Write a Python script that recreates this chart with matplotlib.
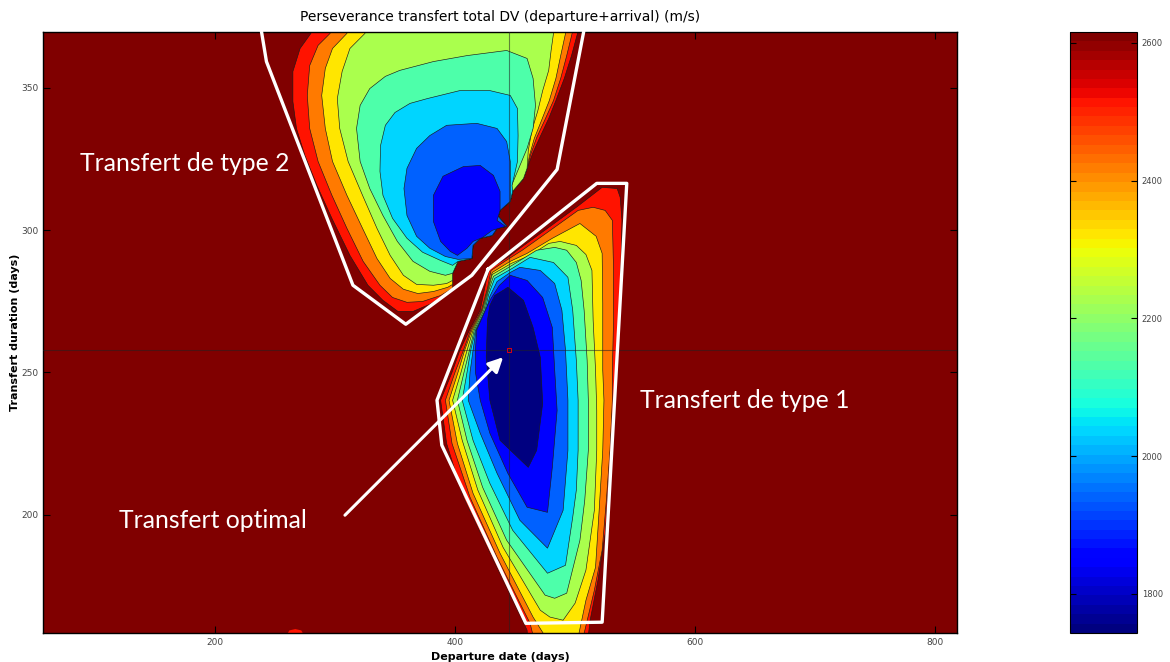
import matplotlib
matplotlib.use("Agg")
import matplotlib.pyplot as plt
from matplotlib import colors, cm

# colour scale of the DV map (m/s)
dv_min, dv_max = 1743, 2616
cbar_ticks = [1800, 2000, 2200, 2400, 2600]
# value of each filled band, outermost (red) to innermost (navy)
band_dv = [2519, 2422, 2325, 2228, 2131, 2034, 1937, 1840, 1743]

# optimum
opt_dep, opt_dur = 445, 257.7

# ridge where the type 2 contours pile up (departure, duration)
ridge2_x = [398, 402.5, 414, 415, 421, 431, 435, 443, 436, 437.5, 446, 448, 457, 460]
ridge2_y = [284.8, 289.0, 290.0, 294.6, 297.1, 298.1, 300.6, 301.3, 304.8, 306.9, 310.1, 313.6, 318.1, 321.7]

# type 2 lobe: open rings (left side, then ridge, then right side)
t2_left_x = [
    [286, 280, 271, 265, 265, 268, 275, 285, 297.5, 312.5, 327.5, 340, 352.5, 365, 379, 393, 398],
    [300, 296, 286, 279, 277, 279, 286, 297.5, 310, 323.5, 337.5, 348, 360, 373, 388, 398],
    [314, 310, 298, 292, 289, 292, 298, 310, 323, 335, 346, 357, 369, 382, 394, 398],
    [331, 325, 312.5, 306, 302, 304, 311, 323, 335, 346, 357, 368, 382, 393, 398],
]
t2_left_y = [
    [380.7, 369.1, 363.8, 355.7, 345.2, 335.7, 326.2, 315.7, 304.1, 291.1, 280.6, 275.3, 271.4, 271.4, 273.9, 277.4, 278.8],
    [380.7, 369.1, 364.9, 357.8, 347.3, 335.7, 324.1, 312.2, 300.6, 289.0, 280.6, 276.3, 274.6, 274.9, 277.0, 279.5],
    [380.7, 369.1, 363.8, 356.8, 347.3, 335.7, 324.1, 312.2, 300.6, 290.0, 283.0, 279.2, 277.7, 278.4, 279.9, 280.9],
    [380.7, 369.1, 363.8, 355.7, 346.2, 335.7, 324.1, 312.2, 300.6, 291.1, 284.1, 280.9, 280.6, 281.2, 282.3],
]
t2_right_x = [
    [465, 471, 478, 484, 491, 497, 502, 506],
    [463, 468, 475, 482, 488, 493, 497.5, 501],
    [462, 466, 472, 478.5, 484, 488, 492, 494],
    [461, 464, 469, 473, 478, 480, 482, 482.5],
]
t2_right_y = [
    [327.3, 332.9, 339.2, 345.5, 353.3, 361.3, 369.1, 380.7],
    [326.6, 332.5, 338.9, 345.5, 353.3, 361.3, 369.1, 380.7],
    [326.2, 332.2, 338.5, 345.5, 353.3, 361.3, 369.1, 380.7],
    [328.0, 335.0, 342.0, 349.0, 356.1, 363.1, 369.1, 380.7],
]
# type 2 lobe: closed inner rings (aqua, light blue, mid blue, blue)
t2_inner_x = [
    [446, 452, 460, 465, 467, 465, 460, 443, 410, 382, 354, 342, 329, 321, 318, 321, 329, 340, 352, 365, 379, 392,
     398, 402.5, 414, 415, 421, 431, 435, 443, 436, 437.5, 446, 448],
    [447.5, 452, 452.5, 452, 446, 429, 404, 377, 362.5, 350, 342, 338, 337.5, 340, 348, 360, 373, 388,
     398, 402.5, 414, 415, 421, 431, 435, 443, 436, 437.5, 446, 448],
    [446, 446, 443, 435, 418, 393, 379, 368, 360, 357.5, 360, 368, 379, 392, 402.5,
     414, 415, 421, 431, 435, 443, 436, 437.5, 446],
    [437.5, 437.5, 432, 421, 407, 390, 382, 382, 388, 396, 402, 410, 415, 423, 431, 442, 435, 437.5],
]
t2_inner_y = [
    [314.6, 320.6, 328.7, 335.7, 343.8, 353.3, 360.3, 363.1, 361.3, 359.2, 356.1, 354.0, 349.7, 343.8, 335.7, 324.1,
     314.6, 305.1, 296.0, 289.0, 285.5, 284.1, 284.8, 289.0, 290.0, 294.6, 297.1, 298.1, 300.6, 301.3, 304.8, 306.9,
     310.1, 313.6],
    [315.7, 324.1, 333.2, 342.7, 347.3, 349.0, 349.0, 346.2, 344.5, 341.3, 336.8, 329.7, 320.6, 312.2, 304.1, 297.1,
     292.2, 289.3, 287.6, 289.0, 290.0, 294.6, 297.1, 298.1, 300.6, 301.3, 304.8, 306.9, 310.1, 313.6],
    [313.9, 324.1, 331.1, 335.7, 337.5, 336.8, 333.2, 328.7, 321.7, 314.6, 305.1, 297.8, 293.6, 290.7, 289.7,
     290.0, 294.6, 297.1, 298.1, 300.6, 301.3, 304.8, 306.9, 310.1],
    [308.7, 313.6, 319.2, 322.7, 322.3, 318.9, 312.2, 303.0, 296.0, 292.5, 291.1, 293.6, 296.0, 297.4, 299.9, 301.3,
     303.4, 306.9],
]

# type 1 lobe: nested closed rings, red to navy
t1_x = [
    [426, 429, 444, 454, 477, 502, 522.5, 535, 537.5, 539, 538, 537, 535, 533, 532, 528, 525, 519, 512.5, 510,
     461, 460, 432, 407, 393, 388, 397.5, 404, 412, 421],
    [427, 430, 444, 456, 478, 502.5, 515, 525, 531, 532, 532, 531, 531, 529, 526, 522.5, 516, 507.5, 507,
     467, 462.5, 435, 412.5, 397.5, 392, 400, 407, 413, 422],
    [427, 431, 446, 460, 481, 504, 517.5, 522.5, 523, 523, 524, 523, 520, 517, 509, 502,
     477, 465, 437.5, 415, 402, 395, 402.5, 408, 414, 422.5],
    [427.5, 431, 447, 462.5, 478, 487.5, 501, 509, 514, 515, 517, 518, 518, 516, 509, 500, 490, 479,
     471, 440, 419, 406, 398, 405, 410, 415, 423],
    [427.5, 432, 447.5, 468, 483, 493, 501, 505, 507.5, 510, 511, 511, 508, 504, 493, 483, 475,
     443, 423, 410, 402, 407.5, 412, 416, 424],
    [428, 433, 447.5, 462.5, 482, 494, 498, 501, 502.5, 502.5, 501, 498, 492, 477, 448, 429, 415, 406,
     410, 413, 417, 425],
    [429, 435, 446, 454, 471, 483, 489, 492, 494, 494, 490, 477, 454, 435, 421, 411, 412.5, 415, 417.5, 426],
    [430, 437, 446, 460, 473, 481, 483, 485, 481, 477, 460, 444, 429, 421, 417, 417, 418, 427],
    [433, 440, 444, 457, 465, 471, 473, 468, 461, 437.5, 429, 426, 427, 429],
]
t1_y = [
    [282.3, 286.5, 290.4, 293.6, 300.6, 308.3, 315.0, 314.6, 311.5, 303.4, 285.8, 268.3, 250.7, 240.2, 228.6, 212.1,
     193.4, 176.9, 162.9, 154.1, 154.1, 159.4, 184.0, 206.1, 225.0, 240.2, 250.0, 257.7, 264.8, 271.8],
    [279.5, 285.8, 289.7, 292.9, 299.5, 306.9, 308.0, 306.9, 303.4, 285.8, 268.3, 250.7, 240.2, 222.6, 205.0, 187.5,
     173.4, 158.3, 154.1, 154.1, 161.8, 185.0, 206.1, 225.0, 240.2, 250.0, 257.7, 264.8, 271.8],
    [278.8, 285.1, 289.0, 291.8, 297.1, 302.3, 297.8, 291.8, 274.2, 250.7, 240.2, 222.6, 201.5, 181.5, 169.9, 155.9,
     155.9, 164.0, 186.4, 207.5, 225.0, 240.2, 250.0, 257.7, 264.8, 271.8],
    [278.8, 284.4, 288.3, 291.1, 295.3, 296.0, 294.6, 291.4, 285.8, 268.3, 250.7, 236.6, 222.6, 201.5, 180.5, 168.9,
     162.9, 164.0, 166.4, 188.5, 208.6, 226.1, 240.2, 250.0, 257.7, 264.8, 271.8],
    [278.1, 283.7, 287.6, 292.9, 293.9, 292.9, 288.6, 282.3, 271.8, 254.2, 240.2, 222.6, 205.0, 191.0, 172.4, 170.6,
     171.7, 191.0, 209.6, 226.1, 240.2, 250.0, 257.7, 264.8, 271.8],
    [277.4, 283.0, 286.5, 290.4, 288.6, 283.4, 271.8, 254.2, 240.2, 222.6, 208.6, 199.1, 182.2, 179.4, 194.5, 211.0,
     226.1, 240.2, 250.0, 257.7, 264.8, 271.8],
    [276.7, 281.9, 285.1, 286.9, 285.8, 281.2, 271.8, 257.7, 240.2, 222.6, 201.5, 188.2, 198.0, 214.5, 228.6, 240.2,
     250.0, 257.7, 264.8, 271.8],
    [276.0, 280.6, 284.1, 282.3, 276.3, 265.8, 250.7, 236.6, 216.6, 200.8, 202.6, 214.5, 228.6, 240.2, 250.0, 257.7,
     264.8, 273.5],
    [277.0, 278.8, 279.9, 275.3, 265.8, 255.3, 239.1, 222.6, 216.6, 226.1, 240.2, 255.3, 268.3, 273.5],
]

# small red patch touching the bottom edge
patch_x = [259, 262, 267, 272, 275]
patch_y = [157.0, 159.3, 159.8, 159.3, 157.0]

# hand-drawn white outlines around the two families of transfers
outline2_x = [239, 243, 315, 359, 414, 485, 507]
outline2_y = [369.4, 359.2, 280.6, 266.9, 284.1, 321.3, 369.4]
outline1_x = [427.5, 518, 543, 522.5, 459, 389, 385, 427.5]
outline1_y = [286.2, 316.4, 316.4, 162.2, 161.8, 224.4, 240.2, 286.2]

cmap = plt.get_cmap("jet")
norm = colors.Normalize(vmin=dv_min, vmax=dv_max)

fig = plt.figure(figsize=(11.7, 6.62), dpi=100)
ax = fig.add_axes([0.0368, 0.0438, 0.7812, 0.9079])
ax.set_facecolor(cmap(norm(dv_max)))


def band(x, y, dv):
    ax.fill(x, y, facecolor=cmap(norm(dv)), edgecolor="#1a1a1a", linewidth=0.45, zorder=2)


for i in range(len(t2_left_x)):
    band(t2_left_x[i] + ridge2_x + t2_right_x[i], t2_left_y[i] + ridge2_y + t2_right_y[i], band_dv[i])
for i in range(len(t2_inner_x)):
    band(t2_inner_x[i], t2_inner_y[i], band_dv[4 + i])
for i in range(len(t1_x)):
    band(t1_x[i], t1_y[i], band_dv[i])
ax.fill(patch_x, patch_y, facecolor=cmap(norm(band_dv[0])), edgecolor="none", zorder=2)

# crosshair on the optimum
ax.axvline(opt_dep, color="#222222", linewidth=0.8, alpha=0.55, zorder=3)
ax.axhline(opt_dur, color="#222222", linewidth=0.8, alpha=0.55, zorder=3)
ax.plot([opt_dep], [opt_dur], marker="s", markersize=3, markerfacecolor="none",
        markeredgecolor="red", markeredgewidth=0.6, linestyle="none", zorder=4)

ax.plot(outline2_x, outline2_y, color="white", linewidth=2.4, zorder=5, clip_on=False)
ax.plot(outline1_x, outline1_y, color="white", linewidth=2.4, zorder=5)

txt = dict(color="white", fontsize=17.8, family=["Lato", "DejaVu Sans"], va="center", ha="left", zorder=6)
ax.text(87.5, 323.4, "Transfert de type 2", **txt)
ax.text(554, 240.2, "Transfert de type 1", **txt)
ax.text(120, 198, "Transfert optimal", **txt)
ax.annotate("", xy=(441.7, 256), xytext=(306.7, 199.1),
            arrowprops=dict(arrowstyle="-|>", color="white", linewidth=2.2, mutation_scale=22),
            zorder=6)

ax.set_xlim(57, 818)
ax.set_ylim(158.4, 369.6)
ax.set_xticks([200, 400, 600, 800])
ax.set_yticks([200, 250, 300, 350])
ax.tick_params(direction="in", top=True, right=True, length=5, width=0.8,
               labelsize=6.5, labelcolor="#444444")
for s in ax.spines.values():
    s.set_linewidth(1.0)
ax.set_title("Perseverance transfert total DV (departure+arrival) (m/s)", fontsize=10, pad=8)
ax.set_xlabel("Departure date (days)", fontsize=8, fontweight="bold", labelpad=4)
ax.set_ylabel("Transfert duration (days)", fontsize=8, fontweight="bold", labelpad=1)

cax = fig.add_axes([0.9145, 0.0438, 0.0573, 0.9079])
cb = fig.colorbar(cm.ScalarMappable(norm=norm, cmap=plt.get_cmap("jet", 64)), cax=cax)
cb.set_ticks(cbar_ticks)
cb.outline.set_linewidth(0.8)
cax.tick_params(direction="in", left=True, right=True, length=4, width=0.8,
                labelsize=6, labelcolor="#444444")

fig.savefig("out.png", dpi=100)
